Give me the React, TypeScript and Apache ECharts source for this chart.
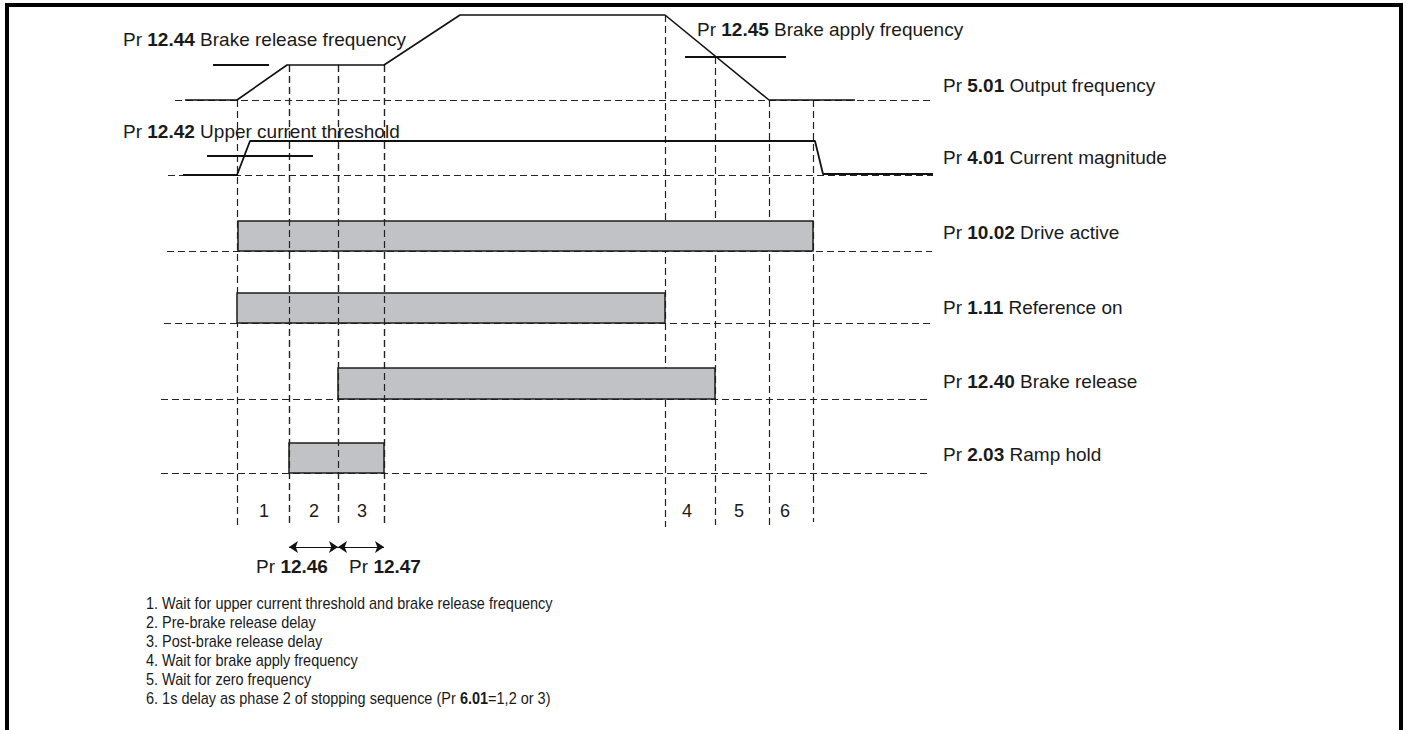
import React, { useEffect, useRef } from "react";
import * as echarts from "echarts";

const W = 1406;
const H = 730;

// Phase boundary instants (time axis) and the vertical extent of each dashed marker
const phaseEdges = [237, 289, 338, 384, 665, 715, 769, 813];
const phaseEdgeTops = [100, 65, 65, 65, 15, 57, 100, 100];
const phaseEdgeBottoms = [527, 527, 527, 527, 527, 525, 525, 522];

// Analogue traces
const freqTrace = [[185, 100], [237, 100], [287, 65], [384, 65], [460, 15], [665, 15], [769, 100], [855, 100]];
const currentTrace = [[183, 175], [237, 175], [250, 141], [815, 141], [823, 174], [933, 174]];
const releaseFreqThreshold = [[213, 65], [269, 65]];
const upperCurrentThreshold = [[207, 156], [313, 156]];
const applyFreqThreshold = [[685, 57], [786, 57]];

// Baselines of each trace row
const baselineY = [100, 175, 251, 323, 399, 473];
const baselineStart = [175, 168, 167, 164, 161, 161];
const baselineEnd = [930, 933, 932, 932, 930, 930];

// Digital signals
const signalNames = ["Drive active", "Reference on", "Brake release", "Ramp hold"];
const signalStart = [238, 237, 338, 289];
const signalEnd = [813, 665, 715, 384];
const signalTop = [221, 293, 368, 443];
const signalBottom = [251, 323, 399, 473];

// Phase numbers
const phaseLabels = ["1", "2", "3", "4", "5", "6"];
const phaseLabelX = [264, 314, 362, 687, 739, 785];

// Delay arrows
const arrowStart = [289, 338];
const arrowEnd = [338, 384];
const arrowY = 547;

const rightLabels = [
  "Pr {b|5.01} Output frequency",
  "Pr {b|4.01} Current magnitude",
  "Pr {b|10.02} Drive active",
  "Pr {b|1.11} Reference on",
  "Pr {b|12.40} Brake release",
  "Pr {b|2.03} Ramp hold",
];
const rightLabelY = [85, 157, 232, 307, 381, 454];

const notes = [
  "1. Wait for upper current threshold and brake release frequency",
  "2. Pre-brake release delay",
  "3. Post-brake release delay",
  "4. Wait for brake apply frequency",
  "5. Wait for zero frequency",
  "6. 1s delay as phase 2 of stopping sequence (Pr {b|6.01}=1,2 or 3)",
];

const FONT = '"Liberation Sans", Arial, sans-serif';
const INK = "#1a1a1a";

function label(text: string, x: number, y: number, size = 19, align = "left", scaleX = 1) {
  return {
    type: "text",
    x,
    y,
    scaleX,
    silent: true,
    style: {
      text,
      fill: INK,
      fontSize: size,
      fontFamily: FONT,
      align,
      verticalAlign: "middle",
      rich: {
        b: { fontWeight: "bold", fontSize: size, fontFamily: FONT, fill: INK },
      },
    },
  };
}

export default function App() {
  const ref = useRef<HTMLDivElement>(null);
  useEffect(() => {
    if (!ref.current) return;
    const chart = echarts.init(ref.current, undefined, { renderer: "svg" });

    const dash = [7, 4];
    const vertLines = phaseEdges.map((x, i) => ({
      coords: [[x, phaseEdgeTops[i]], [x, phaseEdgeBottoms[i]]],
    }));
    const horizLines = baselineY.map((y, i) => ({
      coords: [[baselineStart[i], y], [baselineEnd[i], y]],
    }));
    const arrows = arrowStart.map((x, i) => ({ coords: [[x, arrowY], [arrowEnd[i], arrowY]] }));
    const bars = signalNames.map((n, i) => ({
      name: n,
      value: [signalStart[i], signalEnd[i], signalTop[i], signalBottom[i]],
    }));

    const traceStyle = (w: number) => ({ color: "#111", width: w });

    const graphic: any[] = [
      {
        type: "rect",
        silent: true,
        shape: { x: 7, y: 5, width: 1394, height: 780 },
        style: { fill: "none", stroke: "#000", lineWidth: 4 },
      },
      label("Pr {b|12.44} Brake release frequency", 123, 39),
      label("Pr {b|12.42} Upper current threshold", 123, 131),
      label("Pr {b|12.45} Brake apply frequency", 697, 29),
      ...rightLabels.map((t, i) => label(t, 943, rightLabelY[i])),
      ...phaseLabels.map((t, i) => label(t, phaseLabelX[i], 511, 18, "center")),
      label("Pr {b|12.46}", 292, 566, 19, "center"),
      label("Pr {b|12.47}", 385, 566, 19, "center"),
      ...notes.map((t, i) => label(t, 146, 603 + i * 19, 16, "left", 0.905)),
    ];

    chart.setOption({
      animation: false,
      grid: { left: 0, right: 0, top: 0, bottom: 0 },
      xAxis: { type: "value", min: 0, max: W, show: false },
      yAxis: { type: "value", min: 0, max: H, inverse: true, show: false },
      series: [
        {
          type: "lines",
          coordinateSystem: "cartesian2d",
          silent: true,
          data: [...vertLines, ...horizLines],
          lineStyle: { color: "#222", width: 1.2, type: dash, opacity: 1 },
          z: 1,
        },
        {
          type: "custom",
          silent: true,
          encode: { x: [0, 1], y: [2, 3] },
          data: bars,
          renderItem: (params: any, api: any) => {
            const p1 = api.coord([api.value(0), api.value(2)]);
            const p2 = api.coord([api.value(1), api.value(3)]);
            return {
              type: "rect",
              shape: { x: p1[0], y: p1[1], width: p2[0] - p1[0], height: p2[1] - p1[1] },
              style: { fill: "#c1c2c5", stroke: "#1e1e1e", lineWidth: 1.5 },
            };
          },
          z: 2,
        },
        {
          type: "lines",
          coordinateSystem: "cartesian2d",
          silent: true,
          z: 3,
          data: [...vertLines.slice(1, 4).map((v) => v)],
          lineStyle: { color: "#222", width: 1.2, type: dash, opacity: 1 },
        },
        { type: "line", silent: true, showSymbol: false, data: freqTrace, lineStyle: traceStyle(1.6), z: 4 },
        { type: "line", silent: true, showSymbol: false, data: currentTrace, lineStyle: traceStyle(1.8), z: 4 },
        { type: "line", silent: true, showSymbol: false, data: releaseFreqThreshold, lineStyle: traceStyle(2), z: 4 },
        { type: "line", silent: true, showSymbol: false, data: upperCurrentThreshold, lineStyle: traceStyle(2), z: 4 },
        { type: "line", silent: true, showSymbol: false, data: applyFreqThreshold, lineStyle: traceStyle(2), z: 4 },
        {
          type: "lines",
          coordinateSystem: "cartesian2d",
          silent: true,
          data: arrows,
          symbol: ["arrow", "arrow"],
          symbolSize: 9,
          lineStyle: { color: "#111", width: 1.2, type: "solid", opacity: 1 },
          z: 4,
        },
      ],
      graphic,
    });
    return () => chart.dispose();
  }, []);

  return (
    <div
      ref={ref}
      style={{ position: "fixed", left: 0, top: 0, width: W, height: H, background: "#fff" }}
    />
  );
}
